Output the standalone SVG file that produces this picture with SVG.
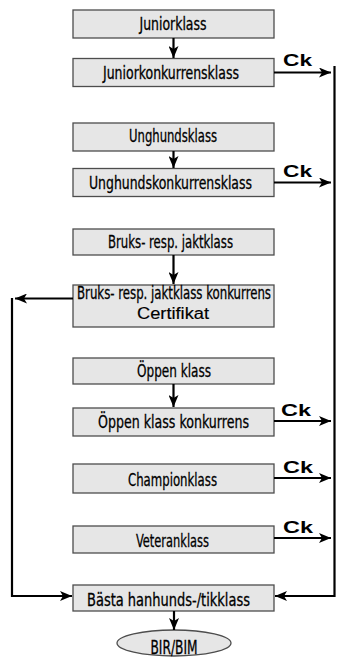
<svg xmlns="http://www.w3.org/2000/svg" width="337" height="657" viewBox="0 0 337 657">
<style>
.box{fill:#e6e6e6;stroke:#4d4d4d;stroke-width:1.3}
.t{font-family:"Liberation Sans Narrow","DejaVu Sans Condensed","Liberation Sans",sans-serif;font-stretch:condensed;font-size:18px;fill:#000;stroke:#000;stroke-width:0.3;text-anchor:middle}
.c{font-family:"Liberation Sans","DejaVu Sans",sans-serif;font-size:17px;font-weight:bold;fill:#000}
.ln{fill:none;stroke:#000;stroke-width:2.2}
</style>
<defs>
<marker id="ah" viewBox="0 0 12 10" refX="12" refY="5" markerWidth="12" markerHeight="10" markerUnits="userSpaceOnUse" orient="auto">
<path d="M0,0 L12,5 L0,10 L3,5 z" fill="#000"/>
</marker>
</defs>
<rect width="337" height="657" fill="#fff"/>
<g id="n1"><rect class="box" x="73" y="10" width="201" height="28"/><text class="t" x="173" y="30" textLength="67" lengthAdjust="spacingAndGlyphs">Juniorklass</text></g>
<g id="n2"><rect class="box" x="73" y="58.5" width="201" height="28"/><text class="t" x="171" y="79" textLength="136" lengthAdjust="spacingAndGlyphs">Juniorkonkurrensklass</text></g>
<g id="n3"><rect class="box" x="73" y="123" width="201" height="28"/><text class="t" x="173" y="142" textLength="88" lengthAdjust="spacingAndGlyphs">Unghundsklass</text></g>
<g id="n4"><rect class="box" x="73" y="168.5" width="201" height="28"/><text class="t" x="170.5" y="189" textLength="163" lengthAdjust="spacingAndGlyphs">Unghundskonkurrensklass</text></g>
<g id="n5"><rect class="box" x="73" y="229" width="201" height="26"/><text class="t" x="170.5" y="248" textLength="125" lengthAdjust="spacingAndGlyphs">Bruks-  resp. jaktklass</text></g>
<g id="n6"><rect class="box" x="73" y="285" width="201" height="42"/><text class="t" x="174" y="298.5" textLength="194" lengthAdjust="spacingAndGlyphs" style="font-size:17px">Bruks-  resp. jaktklass konkurrens</text><text class="t" x="173" y="319" textLength="72" lengthAdjust="spacingAndGlyphs" style="font-family:'Liberation Sans',sans-serif;font-stretch:normal;font-size:16px;stroke-width:0.15">Certifikat</text></g>
<g id="n7"><rect class="box" x="73" y="358" width="201" height="26"/><text class="t" x="174" y="377" textLength="74" lengthAdjust="spacingAndGlyphs">Öppen  klass</text></g>
<g id="n8"><rect class="box" x="73" y="408" width="201" height="28"/><text class="t" x="173.5" y="428" textLength="151" lengthAdjust="spacingAndGlyphs">Öppen  klass  konkurrens</text></g>
<g id="n9"><rect class="box" x="73" y="464" width="201" height="29"/><text class="t" x="172.5" y="486" textLength="89" lengthAdjust="spacingAndGlyphs">Championklass</text></g>
<g id="n10"><rect class="box" x="73" y="526" width="201" height="27"/><text class="t" x="172.5" y="547" textLength="73" lengthAdjust="spacingAndGlyphs">Veteranklass</text></g>
<g id="n11"><rect class="box" x="73" y="585" width="201" height="26"/><text class="t" x="168.5" y="606" textLength="163" lengthAdjust="spacingAndGlyphs">Bästa  hanhunds-/tikklass</text></g>
<g id="n12"><ellipse class="box" cx="174" cy="643" rx="57" ry="13"/><text class="t" x="174" y="654" textLength="47" lengthAdjust="spacingAndGlyphs" style="font-size:19px">BIR/BIM</text></g>
<g id="connectors">
<line class="ln" x1="173.5" y1="38" x2="173.5" y2="58" marker-end="url(#ah)"/>
<line class="ln" x1="173.5" y1="151" x2="173.5" y2="168" marker-end="url(#ah)"/>
<line class="ln" x1="173.5" y1="255" x2="173.5" y2="284" marker-end="url(#ah)"/>
<line class="ln" x1="173.5" y1="384" x2="173.5" y2="407" marker-end="url(#ah)"/>
<line class="ln" x1="174" y1="611" x2="174" y2="630" marker-end="url(#ah)"/>
<line class="ln" x1="274" y1="72.5" x2="331" y2="72.5" marker-end="url(#ah)"/>
<line class="ln" x1="274" y1="182.5" x2="331" y2="182.5" marker-end="url(#ah)"/>
<line class="ln" x1="274" y1="421" x2="331" y2="421" marker-end="url(#ah)"/>
<line class="ln" x1="274" y1="478" x2="331" y2="478" marker-end="url(#ah)"/>
<line class="ln" x1="274" y1="538" x2="331" y2="538" marker-end="url(#ah)"/>
<polyline class="ln" points="334.5,66 334.5,596 275,596" marker-end="url(#ah)"/>
<line class="ln" x1="73" y1="298.5" x2="15" y2="298.5" marker-end="url(#ah)"/>
<polyline class="ln" points="12,298 12,596 72,596" marker-end="url(#ah)"/>
<text class="c" x="283" y="66" textLength="29" lengthAdjust="spacingAndGlyphs">Ck</text>
<text class="c" x="283" y="177" textLength="29" lengthAdjust="spacingAndGlyphs">Ck</text>
<text class="c" x="281" y="416" textLength="30" lengthAdjust="spacingAndGlyphs">Ck</text>
<text class="c" x="283" y="473" textLength="30" lengthAdjust="spacingAndGlyphs">Ck</text>
<text class="c" x="283" y="533" textLength="30" lengthAdjust="spacingAndGlyphs">Ck</text>
</g>
</svg>
